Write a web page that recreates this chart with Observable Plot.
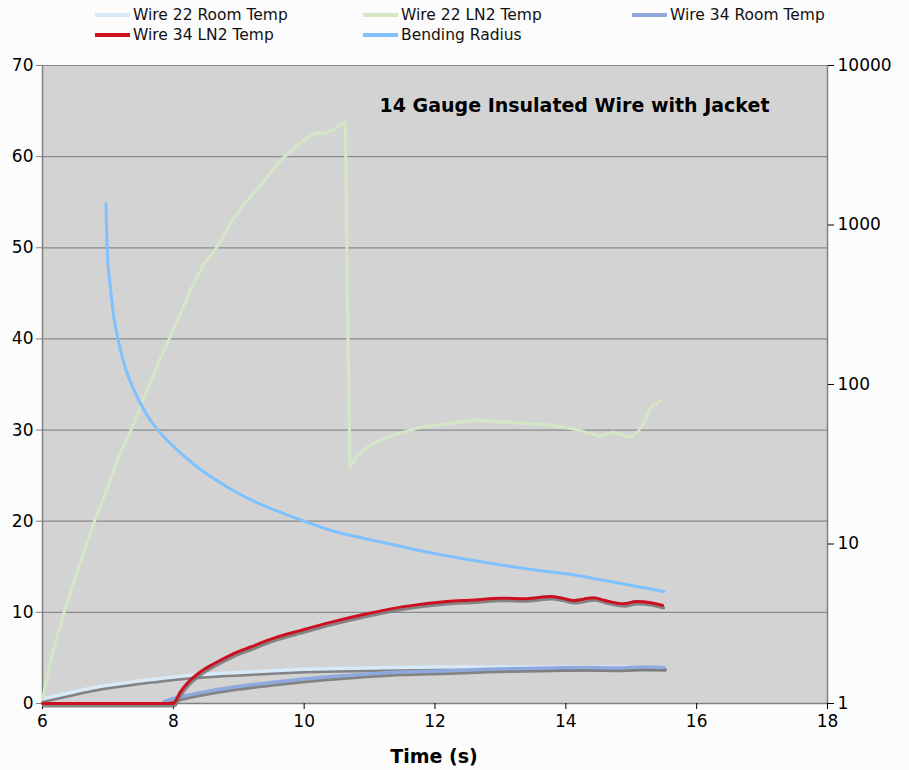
<!DOCTYPE html>
<html>
<head>
<meta charset="utf-8">
<script src="https://cdn.jsdelivr.net/npm/d3@7"></script>
<script src="https://cdn.jsdelivr.net/npm/@observablehq/plot@0.6"></script>
<style>
  html, body { margin: 0; padding: 0; background: #fcfcfc; }
  #wrap { position: relative; width: 909px; height: 770px; font-family: "DejaVu Sans", Verdana, sans-serif; }
  #legend { position: absolute; left: 0; top: 0; width: 909px; height: 50px; font-family: "DejaVu Sans", Verdana, sans-serif; font-size: 15.5px; color: #111; }
  .item { position: absolute; display: flex; align-items: center; white-space: nowrap; height: 16px; line-height: 16px; }
  .sw { width: 35px; height: 3.5px; margin-right: 3px; }
  #xlabel { position: absolute; left: 0; width: 868px; text-align: center; top: 745px; font-weight: bold; font-size: 19px; }
</style>
</head>
<body>
<div id="wrap">
  <div id="legend"></div>
  <div id="chart"></div>
  <div id="xlabel">Time (s)</div>
</div>
<script>
// ---- data ----
const seriesNames = ["Wire 22 Room Temp", "Wire 22 LN2 Temp", "Wire 34 Room Temp", "Wire 34 LN2 Temp", "Bending Radius"];
const seriesColors = ["#d8e9f7", "#d3e6c6", "#8fa9de", "#cc1020", "#7fc0ff"];

const w22RoomT = [6.0, 6.25, 6.5, 6.75, 7.0, 7.25, 7.5, 7.75, 8.0, 8.5, 9.0, 9.5, 10.0, 10.5, 11.0, 11.5, 12.0, 12.5, 13.0, 13.5, 14.0, 14.5, 15.0, 15.5];
const w22RoomV = [0.5, 0.9, 1.3, 1.7, 2.0, 2.25, 2.5, 2.7, 2.9, 3.2, 3.4, 3.6, 3.75, 3.85, 3.9, 3.95, 4.0, 4.0, 4.0, 4.0, 4.0, 4.0, 4.0, 4.0];

const w22LN2T = [6.0, 6.15, 6.33, 6.5, 6.64, 6.82, 6.99, 7.15, 7.35, 7.55, 7.81, 8.05, 8.26, 8.45, 8.67, 8.88, 9.08, 9.35, 9.64, 9.9, 10.17, 10.3, 10.45, 10.63, 10.66, 10.70, 10.8, 11.0, 11.2, 11.42, 11.78, 12.0, 12.3, 12.64, 13.0, 13.45, 13.7, 13.96, 14.2, 14.52, 14.72, 14.98, 15.1, 15.18, 15.31, 15.47];
const w22LN2V = [0.5, 5.5, 10.0, 13.8, 16.8, 20.5, 23.6, 26.8, 30.0, 33.5, 38.0, 41.8, 45.3, 48.0, 50.1, 52.8, 54.8, 57.0, 59.6, 61.3, 62.6, 62.5, 63.0, 63.8, 45.0, 25.8, 27.2, 28.3, 29.0, 29.6, 30.3, 30.5, 30.8, 31.1, 30.9, 30.7, 30.6, 30.3, 30.0, 29.3, 29.8, 29.2, 29.8, 30.7, 32.6, 33.3];

const w34RoomT = [7.86, 8.0, 8.25, 8.5, 8.93, 9.5, 10.0, 10.5, 11.0, 11.5, 12.2, 12.8, 13.4, 13.8, 14.3, 14.8, 15.2, 15.5];
const w34RoomV = [0.2, 0.55, 0.95, 1.3, 1.8, 2.3, 2.7, 3.0, 3.25, 3.45, 3.6, 3.75, 3.85, 3.9, 3.95, 3.9, 4.0, 3.95];

const w34LN2T = [6.0, 7.0, 8.0, 8.1, 8.21, 8.4, 8.62, 8.9, 9.18, 9.55, 9.94, 10.4, 10.96, 11.5, 12.18, 12.6, 13.0, 13.4, 13.77, 13.95, 14.12, 14.27, 14.42, 14.6, 14.88, 15.08, 15.3, 15.48];
const w34LN2V = [0.0, 0.0, 0.0, 1.2, 2.2, 3.4, 4.36, 5.4, 6.2, 7.2, 8.0, 8.9, 9.84, 10.6, 11.2, 11.35, 11.55, 11.5, 11.74, 11.55, 11.3, 11.45, 11.6, 11.3, 10.94, 11.2, 11.05, 10.75];

const bendT = [6.97, 6.99, 7.04, 7.09, 7.17, 7.25, 7.37, 7.5, 7.67, 7.86, 8.1, 8.37, 8.6, 8.87, 9.2, 9.64, 10.0, 10.4, 10.8, 11.17, 11.6, 12.0, 12.5, 13.0, 13.5, 14.0, 14.5, 15.0, 15.5];
const bendR = [1365, 692, 400, 265, 180, 134, 98, 75.7, 58, 46.8, 37.5, 30.3, 26, 22.2, 18.8, 15.8, 13.9, 12.2, 11.1, 10.3, 9.4, 8.7, 8.0, 7.4, 6.9, 6.5, 6.0, 5.5, 5.04];

const leftTicks = [0, 10, 20, 30, 40, 50, 60, 70];
const rightTicks = [1, 10, 100, 1000, 10000];
const xTicks = [6, 8, 10, 12, 14, 16, 18];
const titleText = "14 Gauge Insulated Wire with Jacket";

// ---- build tables ----
const zip = (ts, vs) => ts.map((t, i) => ({t, v: vs[i]}));
const w22Room = zip(w22RoomT, w22RoomV);
const w22LN2 = zip(w22LN2T, w22LN2V);
const w34Room = zip(w34RoomT, w34RoomV);
const w34LN2 = zip(w34LN2T, w34LN2V);
// right axis is logarithmic 1..10000 mapped onto 0..70 of left axis
const K = 70 / 4;
const bend = bendT.map((t, i) => ({t, v: Math.log10(bendR[i]) * K}));

const shadow = (data, w) => Plot.line(data, {x: "t", y: "v", stroke: "#7a7a7a", strokeWidth: w, dy: 2.5, dx: 1, strokeOpacity: 0.9, curve: "monotone-x"});

const chart = Plot.plot({
  width: 909,
  height: 770,
  marginTop: 65,
  marginBottom: 67,
  marginLeft: 42,
  marginRight: 82,
  style: {background: "transparent", fontFamily: "DejaVu Sans, Verdana, sans-serif", fontSize: "17px", color: "#000"},
  x: {domain: [6, 18]},
  y: {domain: [0, 70]},
  marks: [
    Plot.frame({fill: "#d3d3d3", stroke: null}),
    Plot.gridY(leftTicks, {stroke: "#8a8a8a", strokeOpacity: 1, strokeWidth: 1.2}),
    Plot.ruleX([6], {stroke: "#808080", strokeWidth: 1.5}),
    Plot.ruleX([18], {stroke: "#808080", strokeWidth: 1.5}),
    Plot.ruleY([0], {stroke: "#808080", strokeWidth: 1.5}),
    Plot.axisY({ticks: leftTicks, tickSize: 6, tickPadding: 3, label: null, stroke: "#808080", fontSize: 17}),
    Plot.axisY({anchor: "right", ticks: rightTicks.map(r => Math.log10(r) * K), tickFormat: d => String(Math.round(10 ** (d / K))), tickSize: 6, tickPadding: 4, label: null, fontSize: 17}),
    Plot.axisX({ticks: xTicks, tickSize: 6, tickPadding: 5, label: null, fontSize: 17}),
    shadow(w22Room, 3.5),
    Plot.line(w22Room, {x: "t", y: "v", stroke: seriesColors[0], strokeWidth: 3.5, curve: "monotone-x"}),
    shadow(w34Room, 3.5),
    Plot.line(w34Room, {x: "t", y: "v", stroke: seriesColors[2], strokeWidth: 3.5, curve: "monotone-x"}),
    shadow(w34LN2, 3),
    Plot.line(w34LN2, {x: "t", y: "v", stroke: seriesColors[3], strokeWidth: 3, curve: "monotone-x"}),
    Plot.line(w22LN2, {x: "t", y: "v", stroke: seriesColors[1], strokeWidth: 3}),
    Plot.line(bend, {x: "t", y: "v", stroke: seriesColors[4], strokeWidth: 3, curve: "monotone-x"}),
    Plot.text([titleText], {frameAnchor: "top-left", dx: 532, dy: 33, textAnchor: "middle", fontWeight: "bold", fontSize: 19, fill: "#000"})
  ]
});
document.getElementById("chart").appendChild(chart);

// ---- legend ----
const legendPos = [[95, 7], [363, 7], [632, 7], [95, 27], [363, 27]];
const leg = document.getElementById("legend");
seriesNames.forEach((name, i) => {
  const d = document.createElement("div");
  d.className = "item";
  d.style.left = legendPos[i][0] + "px";
  d.style.top = legendPos[i][1] + "px";
  d.innerHTML = `<span class="sw" style="background:${seriesColors[i]}"></span><span>${name}</span>`;
  leg.appendChild(d);
});
</script>
</body>
</html>
